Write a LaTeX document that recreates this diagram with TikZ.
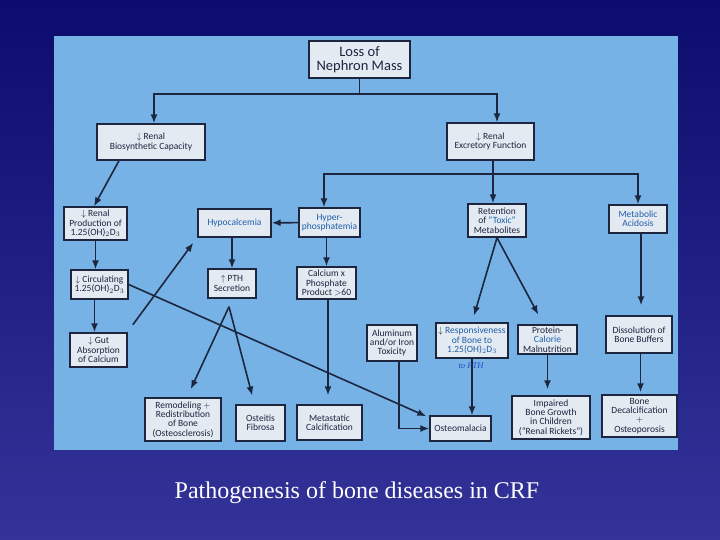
\documentclass[tikz,border=0pt]{standalone}
\usepackage{fontspec}
\setmainfont{Liberation Serif}
\newfontfamily\boxfont{Carlito}
\usetikzlibrary{arrows.meta}

\definecolor{slidetop}{RGB}{12,12,110}
\definecolor{slidebot}{RGB}{51,51,153}
\definecolor{panel}{RGB}{118,178,230}
\definecolor{boxfill}{RGB}{228,234,242}
\definecolor{ink}{RGB}{28,38,62}
\definecolor{marker}{RGB}{30,95,170}
\definecolor{pen}{RGB}{40,70,200}

\newcommand{\hl}[1]{\textcolor{marker}{#1}}
\newcommand{\vitd}{1.25(OH)$_2$D$_3$}

\tikzset{
  box/.style={draw=ink, line width=1.4pt, fill=boxfill, inner sep=0pt,
    align=center, font=\boxfont\fontsize{9.5}{9.3}\selectfont, text=ink},
  arr/.style={draw=ink, line width=1.6pt, -{Latex[length=9pt,width=7pt]}},
  link/.style={draw=ink, line width=1.6pt},
}

\begin{document}
\begin{tikzpicture}[x=1pt,y=-1pt]
  \shade[top color=slidetop, bottom color=slidebot] (0,0) rectangle (720,540);
  \fill[panel] (54,36) rectangle (678,450);

  % top of the tree
  \node[box, minimum width=101, minimum height=37,
        font=\boxfont\fontsize{14.5}{13.5}\selectfont] (loss) at (359.5,59.5) {Loss of\\Nephron Mass};
  \node[box, minimum width=108, minimum height=36] (bio) at (151,142) {$\downarrow$ Renal\\Biosynthetic Capacity};
  \node[box, minimum width=87, minimum height=37] (exc) at (490.5,141.5) {$\downarrow$ Renal\\Excretory Function};

  % second row
  \node[box, minimum width=63, minimum height=33] (prod) at (95.5,223.5) {$\downarrow$ Renal\\Production of\\\vitd};
  \node[box, minimum width=73, minimum height=28] (hypo) at (234.5,223) {\hl{Hypocalcemia}};
  \node[box, minimum width=61, minimum height=29] (hyper) at (329.5,222.5) {\hl{Hyper-}\\\hl{phosphatemia}};
  \node[box, minimum width=58, minimum height=33] (ret) at (497,220.5) {Retention\\of \hl{“Toxic”}\\Metabolites};
  \node[box, minimum width=58, minimum height=28] (acid) at (638,219) {\hl{Metabolic}\\\hl{Acidosis}};

  % third row
  \node[box, minimum width=57, minimum height=29] (circ) at (99.5,284.5) {$\downarrow$ Circulating\\\vitd};
  \node[box, minimum width=48, minimum height=29] (pth) at (232,283.5) {$\uparrow$ PTH\\Secretion};
  \node[box, minimum width=59, minimum height=32] (cap) at (326.5,283) {Calcium x\\Phosphate\\Product $>$60};

  % fourth row
  \node[box, minimum width=57, minimum height=34] (cut) at (98.5,350) {$\downarrow$ Gut\\Absorption\\of Calcium};
  \node[box, minimum width=50, minimum height=36] (alum) at (392,343) {Aluminum\\and/or Iron\\Toxicity};
  \node[box, minimum width=72, minimum height=35] (resp) at (472,340.5) {$\downarrow$ \hl{Responsiveness}\\\hl{of Bone to}\\\hl{\vitd}};
  \node[box, minimum width=59, minimum height=29] (prot) at (547.5,339.5) {Protein-\\\hl{Calorie}\\Malnutrition};
  \node[box, minimum width=66, minimum height=37] (diss) at (639,334.5) {Dissolution of\\Bone Buffers};
  \node[text=pen, font=\fontsize{8.5}{8.5}\selectfont\itshape] (topth) at (471,366) {to PTH};

  % bottom row
  \node[box, minimum width=76, minimum height=43] (remod) at (183,419.5) {Remodeling $+$\\Redistribution\\of Bone\\(Osteosclerosis)};
  \node[box, minimum width=49, minimum height=36] (fib) at (260.5,423) {Osteitis\\Fibrosa};
  \node[box, minimum width=65, minimum height=35] (meta) at (329.5,422.5) {Metastatic\\Calcification};
  \node[box, minimum width=61, minimum height=25] (osteo) at (460.5,428.5) {Osteomalacia};
  \node[box, minimum width=78, minimum height=43] (rick) at (551,417.5) {Impaired\\Bone Growth\\in Children\\(“Renal Rickets”)};
  \node[box, minimum width=75, minimum height=42] (decal) at (639.5,416) {Bone\\Decalcification\\$+$\\Osteoporosis};

  \node[text=white, font=\fontsize{24}{24}\selectfont] (caption) at (357,493) {Pathogenesis of bone diseases in CRF};

  % branch points
  \coordinate (split1) at (359.5,94);
  \coordinate (split2) at (493,174);

  \draw[link] (loss) -- (split1);
  \draw[arr] (split1) -| ([xshift=3]bio.north);
  \draw[arr] (split1) -| ([xshift=6.5]exc.north);
  \draw[link] (split2 |- exc.south) -- (split2);
  \draw[arr] (split2) -| ([xshift=-5.5]hyper.north);
  \draw[arr] (split2) -- (split2 |- ret.north);
  \draw[arr] (split2) -| (acid.north);

  % left chain
  \draw[arr] ([xshift=-32]bio.south) -- ([xshift=-1.5]prod.north);
  \draw[arr] (prod) -- (prod |- circ.north);
  \draw[arr] ([xshift=-5]circ.south) -- ([xshift=-5]circ.south |- cut.north);
  \draw[arr, shorten <=2pt] ([xshift=4,yshift=6]cut.north east) -- ([xshift=-4,yshift=-5]hypo.south west);
  \draw[arr] (circ.east) -- ([xshift=-3,yshift=-1]osteo.north west);

  % middle
  \draw[arr] (hyper) -- (hypo);
  \draw[arr] (hypo.south -| pth.north) -- (pth.north);
  \draw[arr] (hyper.south -| cap.north) -- (cap.north);
  \draw[arr, shorten >=9pt] ([xshift=-3,yshift=-8]pth.south) -- ([xshift=4]remod.north);
  \draw[arr, shorten >=9pt] ([xshift=-3,yshift=-8]pth.south) -- ([xshift=-6]fib.north);
  \draw[arr, shorten >=9pt] ([xshift=1.5]cap.south) -- ([xshift=1.5]cap.south |- meta.north);

  % right side
  \draw[arr] ([xshift=7]alum.south) |- (osteo.west);
  \draw[arr, shorten >=7pt] (ret.south) -- (resp.north);
  \draw[arr, shorten >=11pt] (ret.south) -- ([xshift=-4]prot.north);
  \draw[arr] (resp) -- (resp |- osteo.north);
  \draw[arr, shorten >=6pt] (prot) -- (prot |- rick.north);
  \draw[arr, shorten >=10pt] ([xshift=3]acid.south) -- ([xshift=3]acid.south |- diss.north);
  \draw[arr, shorten >=2pt] ([xshift=1.5]diss.south) -- ([xshift=1.5]diss.south |- decal.north);
\end{tikzpicture}
\end{document}
